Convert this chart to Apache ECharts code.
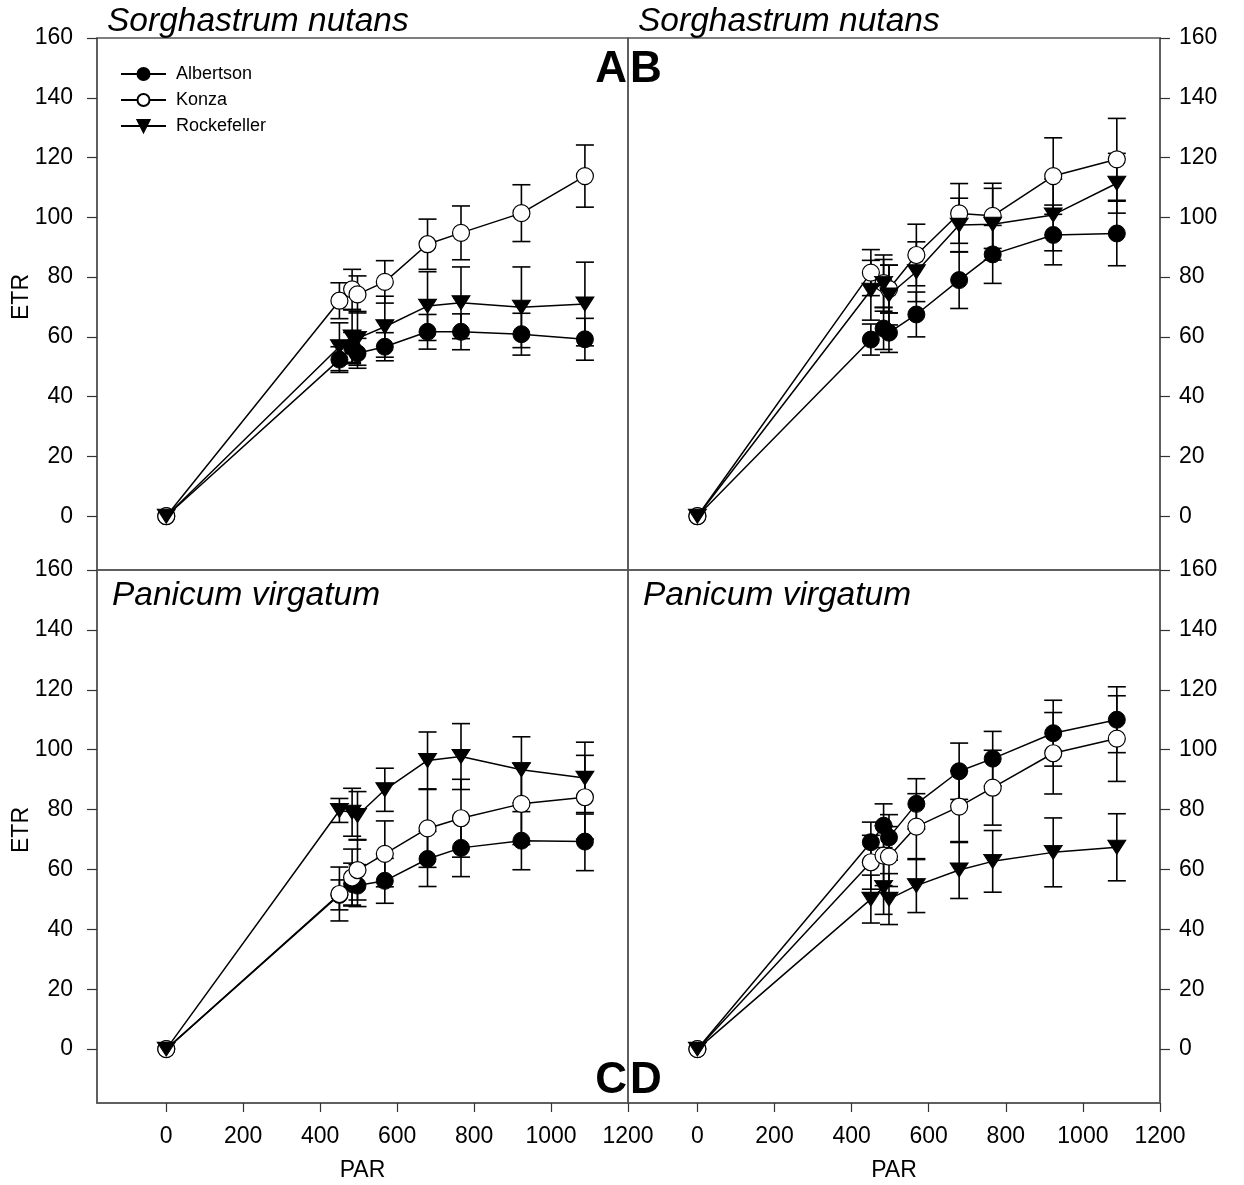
<!DOCTYPE html>
<html>
<head>
<meta charset="utf-8">
<script src="https://cdn.jsdelivr.net/npm/echarts@6/dist/echarts.min.js"></script>
<style>
html,body{margin:0;padding:0;background:#fff;}
#chart{width:1244px;height:1185px;}
</style>
</head>
<body>
<div id="chart"></div>
<script>
// ---- data ----
const siteNames = ['Albertson', 'Konza', 'Rockefeller'];
const par = [0, 450, 483, 497, 568, 679, 766, 923, 1088];
const xTicks = [0, 200, 400, 600, 800, 1000, 1200];
const yTicks = [0, 20, 40, 60, 80, 100, 120, 140, 160];
const panelTitles = ['Sorghastrum nutans', 'Sorghastrum nutans', 'Panicum virgatum', 'Panicum virgatum'];

// Panel A: Sorghastrum nutans (left)
const albA    = [0, 52.4, 56.5, 54.5, 56.7, 61.7, 61.7, 60.9, 59.2];
const albAerr = [0, 4.3, 5, 5, 4.7, 5.8, 6, 7, 7];
const konA    = [0, 72.1, 75.9, 74.2, 78.4, 91.0, 94.8, 101.4, 113.8];
const konAerr = [0, 6, 6.7, 6.2, 7.1, 8.4, 9, 9.5, 10.4];
const rocA    = [0, 56.7, 60.0, 59.5, 63.4, 70.3, 71.4, 69.9, 71.0];
const rocAerr = [0, 8, 9, 9, 10.2, 11.5, 12, 13.5, 14];

// Panel B: Sorghastrum nutans (right)
const albB    = [0, 59.1, 62.8, 61.4, 67.5, 79.0, 87.6, 94.1, 94.6];
const albBerr = [0, 5.2, 7, 6.6, 7.5, 9.5, 9.7, 10, 10.8];
const konB    = [0, 81.5, 78.0, 76.0, 87.4, 101.3, 100.5, 113.8, 119.4];
const konBerr = [0, 7.7, 9.4, 8, 10.3, 10, 10.9, 12.8, 13.7];
const rocB    = [0, 75.6, 77.9, 74.0, 81.8, 97.4, 97.7, 100.8, 111.4];
const rocBerr = [0, 10, 8, 10, 10, 9, 12, 12, 10];

// Panel C: Panicum virgatum (left)
const albC    = [0, 51.5, 55.1, 54.6, 56.2, 63.5, 67.2, 69.6, 69.3];
const albCerr = [0, 5, 7, 7, 7.5, 9.2, 9.6, 9.7, 9.7];
const konC    = [0, 51.8, 57.3, 59.8, 65.2, 73.7, 77.1, 81.9, 84.1];
const konCerr = [0, 9, 9.5, 10, 11, 13, 13, 13.6, 14];
const rocC    = [0, 79.7, 79.1, 78.0, 86.6, 96.4, 97.7, 93.3, 90.5];
const rocCerr = [0, 4, 8, 8, 7.2, 9.5, 11, 11, 12];

// Panel D: Panicum virgatum (right)
const albD    = [0, 69.1, 74.6, 70.7, 81.9, 92.8, 97.0, 105.5, 110.0];
const albDerr = [0, 6.7, 7.3, 7.6, 8.4, 9.4, 9.1, 11, 11];
const konD    = [0, 62.4, 64.6, 64.3, 74.3, 81.0, 87.3, 98.8, 103.7];
const konDerr = [0, 9, 10, 10, 11, 12, 12.5, 13.6, 14.3];
const rocD    = [0, 50.1, 54.0, 50.1, 54.6, 59.8, 62.7, 65.7, 67.4];
const rocDerr = [0, 8, 9, 8.5, 9, 9.5, 10.3, 11.5, 11.2];

const panels = [
  [[albA, albAerr], [konA, konAerr], [rocA, rocAerr]],
  [[albB, albBerr], [konB, konBerr], [rocB, rocBerr]],
  [[albC, albCerr], [konC, konCerr], [rocC, rocCerr]],
  [[albD, albDerr], [konD, konDerr], [rocD, rocDerr]]
];

// ---- styles ----
const FONT = 'Liberation Sans, Arial, sans-serif';
const FRAME = '#555';
const TICKFONT = 23;
const symbolStyles = [
  {symbol: 'circle', symbolSize: 17, symbolRotate: 0, itemStyle: {color: '#000', borderColor: '#000', borderWidth: 1}},
  {symbol: 'circle', symbolSize: 17, symbolRotate: 0, itemStyle: {color: '#fff', borderColor: '#000', borderWidth: 1.2}},
  {symbol: 'triangle', symbolSize: [18, 14], symbolRotate: 180, itemStyle: {color: '#000', borderColor: '#000', borderWidth: 1}}
];

const gridPos = [
  {left: 97, top: 38, width: 531, height: 532},
  {left: 628, top: 38, width: 532, height: 532},
  {left: 97, top: 570, width: 531, height: 533},
  {left: 628, top: 570, width: 532, height: 533}
];

const grids = gridPos.map(g => Object.assign({show: true, borderColor: FRAME, borderWidth: 1.5, backgroundColor: 'transparent'}, g));

const xAxes = gridPos.map((g, i) => {
  const bottom = i >= 2;
  return {
    type: 'value', gridIndex: i, min: -180, max: 1200,
    splitLine: {show: false},
    axisLine: {show: bottom, onZero: false, lineStyle: {color: FRAME, width: 1.5}},
    axisTick: {show: bottom, inside: false, length: 9, customValues: xTicks, lineStyle: {color: '#333', width: 1.2}},
    axisLabel: {show: bottom, customValues: xTicks, margin: 22, fontSize: TICKFONT, color: '#000', fontFamily: FONT,
                formatter: v => String(v)},
    name: bottom ? 'PAR' : '',
    nameLocation: 'middle', nameGap: 56,
    nameTextStyle: {fontSize: 23, color: '#000', fontFamily: FONT}
  };
});

const yAxes = gridPos.map((g, i) => {
  const right = (i % 2) === 1;
  return {
    type: 'value', gridIndex: i, min: -18, max: 160,
    position: right ? 'right' : 'left',
    splitLine: {show: false},
    axisLine: {show: true, onZero: false, lineStyle: {color: FRAME, width: 1.5}},
    axisTick: {show: true, inside: false, length: 10, customValues: yTicks, lineStyle: {color: '#333', width: 1.2}},
    axisLabel: {show: true, customValues: yTicks, margin: right ? 19 : 24, fontSize: TICKFONT, color: '#000', fontFamily: FONT,
                formatter: v => String(v)}
  };
});

function renderErr(params, api) {
  const x = api.value(0), lo = api.value(1), hi = api.value(2);
  const p1 = api.coord([x, hi]);
  const p2 = api.coord([x, lo]);
  const w = 9;
  const st = {stroke: '#000', lineWidth: 1.6};
  return {
    type: 'group',
    children: [
      {type: 'line', shape: {x1: p1[0], y1: p1[1], x2: p2[0], y2: p2[1]}, style: st},
      {type: 'line', shape: {x1: p1[0] - w, y1: p1[1], x2: p1[0] + w, y2: p1[1]}, style: st},
      {type: 'line', shape: {x1: p2[0] - w, y1: p2[1], x2: p2[0] + w, y2: p2[1]}, style: st}
    ]
  };
}

const series = [];
panels.forEach((panel, p) => {
  panel.forEach((pair, s) => {
    const vals = pair[0], errs = pair[1];
    series.push({
      type: 'custom', xAxisIndex: p, yAxisIndex: p, silent: true, z: 2, clip: false,
      renderItem: renderErr,
      encode: {x: 0, y: [1, 2]},
      data: par.map((x, k) => [x, vals[k] - errs[k], vals[k] + errs[k]]).filter((d, k) => errs[k] > 0)
    });
  });
  panel.forEach((pair, s) => {
    const st = symbolStyles[s];
    series.push({
      type: 'line', name: siteNames[s], xAxisIndex: p, yAxisIndex: p, z: 3 + s,
      symbol: st.symbol, symbolSize: st.symbolSize, symbolRotate: st.symbolRotate,
      itemStyle: st.itemStyle,
      lineStyle: {color: '#000', width: 1.5},
      showAllSymbol: true, clip: false,
      data: par.map((x, k) => [x, pair[0][k]])
    });
  });
});

const titleStyle = {fontStyle: 'italic', fontWeight: 'normal', fontSize: 33.5, color: '#000', fontFamily: FONT};
const letterStyle = {fontWeight: 'bold', fontSize: 44, color: '#000', fontFamily: FONT};

const option = {
  animation: false,
  backgroundColor: '#fff',
  title: [
    {text: panelTitles[0], left: 102, top: 0, textStyle: titleStyle},
    {text: panelTitles[1], left: 633, top: 0, textStyle: titleStyle},
    {text: panelTitles[2], left: 107, top: 574, textStyle: titleStyle},
    {text: panelTitles[3], left: 638, top: 574, textStyle: titleStyle},
    {text: 'A', right: 1244 - 627, top: 48, padding: 0, textStyle: letterStyle},
    {text: 'B', left: 630, top: 48, padding: 0, textStyle: letterStyle},
    {text: 'C', right: 1244 - 627, top: 1059, padding: 0, textStyle: letterStyle},
    {text: 'D', left: 630, top: 1059, padding: 0, textStyle: letterStyle}
  ],
  legend: {
    data: siteNames, orient: 'vertical', left: 120, top: 65, padding: 0,
    itemWidth: 45, itemHeight: 15, itemGap: 8, selectedMode: false,
    textStyle: {fontSize: 18, color: '#000', fontFamily: FONT, padding: [0, 0, 0, 5]}
  },
  graphic: [
    {type: 'text', x: 22, y: 297, rotation: Math.PI / 2, style: {text: 'ETR', font: '23px ' + FONT, fill: '#000', textAlign: 'center', textVerticalAlign: 'middle'}},
    {type: 'text', x: 22, y: 830, rotation: Math.PI / 2, style: {text: 'ETR', font: '23px ' + FONT, fill: '#000', textAlign: 'center', textVerticalAlign: 'middle'}}
  ],
  grid: grids,
  xAxis: xAxes,
  yAxis: yAxes,
  series: series
};

const chart = echarts.init(document.getElementById('chart'), null, {renderer: 'canvas'});
chart.setOption(option);
</script>
</body>
</html>
